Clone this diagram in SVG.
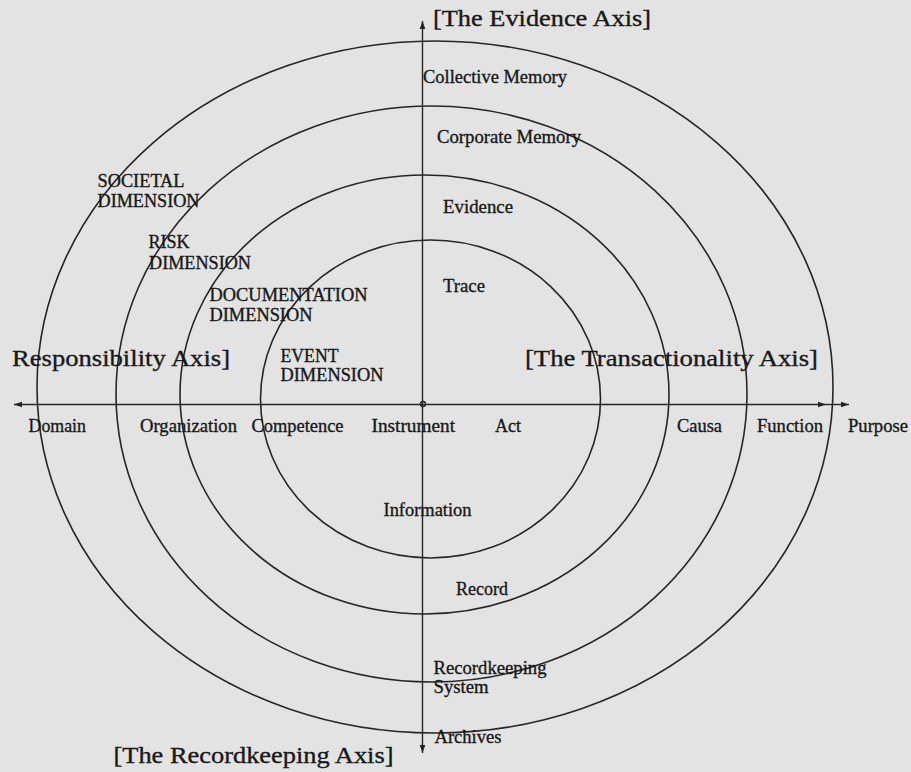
<svg xmlns="http://www.w3.org/2000/svg" width="911" height="772" viewBox="0 0 911 772">
  <defs>
    <marker id="arrow" viewBox="0 0 10 10" refX="10" refY="5" markerWidth="8" markerHeight="8" markerUnits="userSpaceOnUse" orient="auto">
      <path d="M0,1.5 L10,5 L0,8.5 z" fill="#222"/>
    </marker>
    <style>
      .ring { fill: none; stroke: #262626; stroke-width: 1.6; }
      .axis { fill: none; stroke: #262626; stroke-width: 1.4; }
      text { font-family: "Liberation Serif", "Times New Roman", serif; fill: #181818; stroke: #181818; stroke-width: 0.35; }
      .lbl { font-size: 19px; }
      .cap { font-size: 18px; }
      .title { font-size: 24px; }
    </style>
  </defs>

  <!-- paper -->
  <rect x="0" y="0" width="911" height="772" fill="#e3e3e3"/>

  <!-- concentric rings, outermost first -->
  <g id="ring-societal"><ellipse class="ring" cx="435" cy="387" rx="398" ry="346"/></g>
  <g id="ring-risk"><ellipse class="ring" cx="431.5" cy="394" rx="315.5" ry="288"/></g>
  <g id="ring-documentation"><ellipse class="ring" cx="424.5" cy="394.5" rx="244.5" ry="219.5"/></g>
  <g id="ring-event"><ellipse class="ring" cx="430.5" cy="399" rx="170" ry="159"/></g>

  <!-- axes -->
  <g id="connectors">
    <line class="axis" x1="422.5" y1="404" x2="422.5" y2="21" marker-end="url(#arrow)"/>
    <line class="axis" x1="422.5" y1="404" x2="422.5" y2="753" marker-end="url(#arrow)"/>
    <line class="axis" x1="422.5" y1="404.5" x2="14" y2="404.5" marker-end="url(#arrow)"/>
    <line class="axis" x1="422.5" y1="404.5" x2="826" y2="404.5" marker-end="url(#arrow)"/>
    <line class="axis" x1="826" y1="404.5" x2="849" y2="404.5" marker-end="url(#arrow)"/>
    <circle class="axis" cx="423" cy="404" r="2.5"/>
  </g>

  <!-- axis titles -->
  <g id="title-evidence"><text class="title" x="433" y="26" textLength="218" lengthAdjust="spacingAndGlyphs">[The Evidence Axis]</text></g>
  <g id="title-responsibility"><text class="title" x="12" y="366" textLength="218" lengthAdjust="spacingAndGlyphs">Responsibility Axis]</text></g>
  <g id="title-transactionality"><text class="title" x="525" y="366" textLength="293" lengthAdjust="spacingAndGlyphs">[The Transactionality Axis]</text></g>
  <g id="title-recordkeeping"><text class="title" x="113.5" y="763" textLength="280" lengthAdjust="spacingAndGlyphs">[The Recordkeeping Axis]</text></g>

  <!-- evidence axis labels -->
  <g id="lbl-collective-memory"><text class="lbl" x="423" y="82.5" textLength="144" lengthAdjust="spacingAndGlyphs">Collective Memory</text></g>
  <g id="lbl-corporate-memory"><text class="lbl" x="437" y="143" textLength="144" lengthAdjust="spacingAndGlyphs">Corporate Memory</text></g>
  <g id="lbl-evidence"><text class="lbl" x="443" y="213" textLength="70" lengthAdjust="spacingAndGlyphs">Evidence</text></g>
  <g id="lbl-trace"><text class="lbl" x="443" y="292" textLength="42" lengthAdjust="spacingAndGlyphs">Trace</text></g>

  <!-- dimension labels -->
  <g id="dim-societal">
    <text class="cap" x="97.5" y="187" textLength="87" lengthAdjust="spacingAndGlyphs">SOCIETAL</text>
    <text class="cap" x="97.5" y="207" textLength="102" lengthAdjust="spacingAndGlyphs">DIMENSION</text>
  </g>
  <g id="dim-risk">
    <text class="cap" x="148.5" y="248" textLength="41" lengthAdjust="spacingAndGlyphs">RISK</text>
    <text class="cap" x="149" y="268.5" textLength="102" lengthAdjust="spacingAndGlyphs">DIMENSION</text>
  </g>
  <g id="dim-documentation">
    <text class="cap" x="209.5" y="300.5" textLength="158" lengthAdjust="spacingAndGlyphs">DOCUMENTATION</text>
    <text class="cap" x="209.5" y="321" textLength="103" lengthAdjust="spacingAndGlyphs">DIMENSION</text>
  </g>
  <g id="dim-event">
    <text class="cap" x="280.5" y="361.5" textLength="58" lengthAdjust="spacingAndGlyphs">EVENT</text>
    <text class="cap" x="280.5" y="381" textLength="103" lengthAdjust="spacingAndGlyphs">DIMENSION</text>
  </g>

  <!-- horizontal axis labels -->
  <g id="lbl-domain"><text class="lbl" x="28.5" y="432" textLength="57.5" lengthAdjust="spacingAndGlyphs">Domain</text></g>
  <g id="lbl-organization"><text class="lbl" x="140" y="432" textLength="97" lengthAdjust="spacingAndGlyphs">Organization</text></g>
  <g id="lbl-competence"><text class="lbl" x="251.5" y="432" textLength="92" lengthAdjust="spacingAndGlyphs">Competence</text></g>
  <g id="lbl-instrument"><text class="lbl" x="371.5" y="432" textLength="83.5" lengthAdjust="spacingAndGlyphs">Instrument</text></g>
  <g id="lbl-act"><text class="lbl" x="495" y="432" textLength="26" lengthAdjust="spacingAndGlyphs">Act</text></g>
  <g id="lbl-causa"><text class="lbl" x="677" y="432" textLength="45" lengthAdjust="spacingAndGlyphs">Causa</text></g>
  <g id="lbl-function"><text class="lbl" x="757" y="432" textLength="66" lengthAdjust="spacingAndGlyphs">Function</text></g>
  <g id="lbl-purpose"><text class="lbl" x="848" y="432" textLength="60" lengthAdjust="spacingAndGlyphs">Purpose</text></g>

  <!-- recordkeeping axis labels -->
  <g id="lbl-information"><text class="lbl" x="383.5" y="516" textLength="88" lengthAdjust="spacingAndGlyphs">Information</text></g>
  <g id="lbl-record"><text class="lbl" x="456" y="595" textLength="52" lengthAdjust="spacingAndGlyphs">Record</text></g>
  <g id="lbl-recordkeeping-system">
    <text class="lbl" x="433.5" y="674" textLength="113" lengthAdjust="spacingAndGlyphs">Recordkeeping</text>
    <text class="lbl" x="433.5" y="693" textLength="55" lengthAdjust="spacingAndGlyphs">System</text>
  </g>
  <g id="lbl-archives"><text class="lbl" x="434.5" y="743" textLength="67" lengthAdjust="spacingAndGlyphs">Archives</text></g>
</svg>
